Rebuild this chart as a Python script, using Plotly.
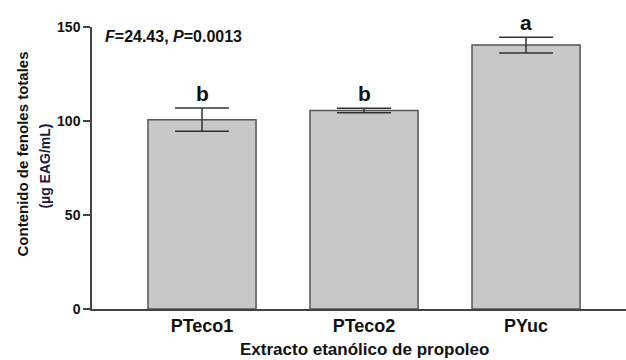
import plotly.graph_objects as go

categories = ["PTeco1", "PTeco2", "PYuc"]
means = [100.7, 105.6, 140.4]
sds = [6.2, 1.2, 4.2]
letters = ["b", "b", "a"]
y_ticks = [0, 50, 100, 150]
stat_text = "<b><i>F</i>=24.43, <i>P</i>=0.0013</b>"

FONT = "Liberation Sans, Arial, sans-serif"
x_idx = list(range(len(categories)))

fig = go.Figure()
fig.add_trace(go.Bar(
    x=x_idx, y=means,
    marker=dict(color="#c8c8c8", line=dict(color="#555555", width=1.5)),
    error_y=dict(type="data", array=sds, visible=True, color="#333333",
                 thickness=1.5, width=27),
    width=0.667,
))

for xi, m, s, l in zip(x_idx, means, sds, letters):
    fig.add_annotation(x=xi, y=m + s, text="<b>" + l + "</b>", showarrow=False,
                       yanchor="bottom", yshift=1,
                       font=dict(family=FONT, size=21, color="#111111"))

fig.add_annotation(xref="paper", yref="paper", x=0.02, y=0.968, text=stat_text,
                   showarrow=False, xanchor="left", yanchor="middle",
                   font=dict(family=FONT, size=16, color="#111111"))

fig.add_annotation(xref="paper", yref="paper", x=-0.131, y=0.548, xanchor="center", yanchor="middle",
                   text="<b>Contenido de fenoles totales</b>", textangle=-90, showarrow=False,
                   font=dict(family=FONT, size=15, color="#111111"))
fig.add_annotation(xref="paper", yref="paper", x=-0.088, y=0.505, xanchor="center", yanchor="middle",
                   text="<b>(µg EAG/mL)</b>", textangle=-90, showarrow=False,
                   font=dict(family=FONT, size=14, color="#1a1a40"))
fig.add_annotation(xref="paper", yref="paper", x=0.51, y=-0.145, xanchor="center", yanchor="middle",
                   text="<b>Extracto etanólico de propoleo</b>", showarrow=False,
                   font=dict(family=FONT, size=17, color="#111111"))

fig.update_layout(
    width=626, height=360,
    margin=dict(l=92, r=0, t=27, b=51, autoexpand=False),
    paper_bgcolor="white", plot_bgcolor="white",
    showlegend=False,
    xaxis=dict(
        range=[-0.679, 2.617], automargin=False,
        tickmode="array", tickvals=x_idx,
        ticktext=["<b>" + c + "</b>" for c in categories],
        tickfont=dict(family=FONT, size=18, color="#111111"),
        showline=True, linecolor="#444444", linewidth=1.5,
        ticks="", showgrid=False, zeroline=False,
    ),
    yaxis=dict(
        range=[0, 150], automargin=False,
        tickmode="array", tickvals=y_ticks,
        ticktext=["<b>" + str(v) + "</b>" for v in y_ticks],
        tickfont=dict(family=FONT, size=14, color="#111111"),
        showline=True, linecolor="#444444", linewidth=1.5,
        ticks="outside", ticklen=7, tickwidth=1.5, tickcolor="#444444",
        showgrid=False, zeroline=False,
    ),
)

fig.write_html("out.html", config={"displayModeBar": False},
               post_script="document.body.style.margin='0';document.body.style.overflow='hidden';")
